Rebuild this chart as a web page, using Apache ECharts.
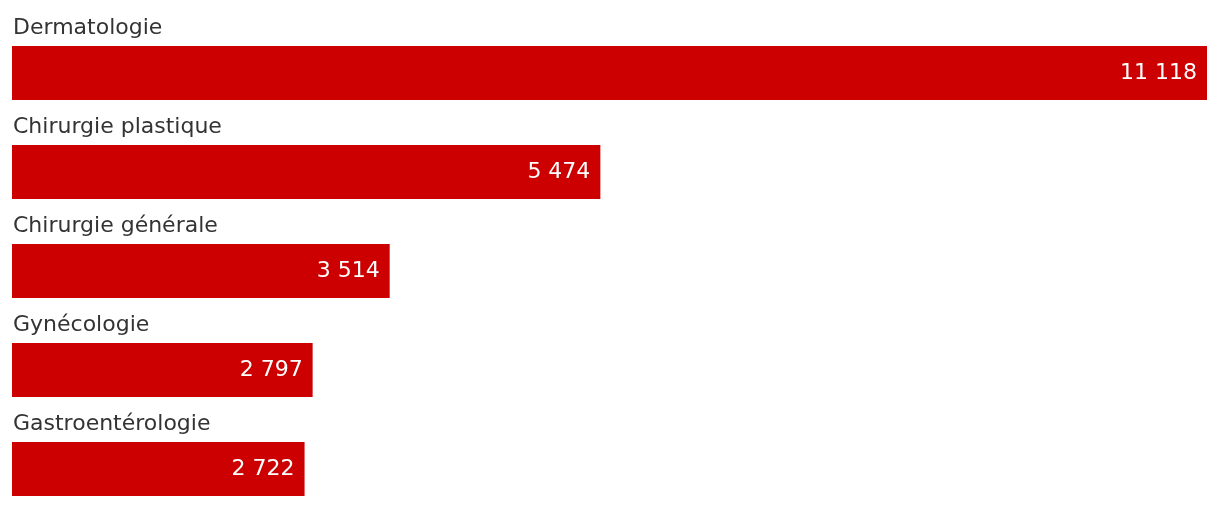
<!DOCTYPE html>
<html><head><meta charset="utf-8">
<script src="https://cdn.jsdelivr.net/npm/echarts@6/dist/echarts.min.js"></script>
<style>html,body{margin:0;padding:0;background:#fff}#c{width:1220px;height:506px}</style>
</head><body><div id="c"></div>
<script>
const categories = ["Dermatologie", "Chirurgie plastique", "Chirurgie générale", "Gynécologie", "Gastroentérologie"];
const values = [11118, 5474, 3514, 2797, 2722];
const fmt = v => String(v).replace(/\B(?=(\d{3})+(?!\d))/g, ' ');
const chart = echarts.init(document.getElementById('c'), null, {renderer: 'canvas'});
chart.setOption({
  animation: false,
  grid: {left: 12, right: 13, top: 11, height: 495, containLabel: false},
  xAxis: {type: 'value', min: 0, max: 'dataMax', show: false},
  yAxis: {type: 'category', data: categories, inverse: true, show: false},
  series: [
    {
      type: 'bar', data: values, barWidth: 25, barGap: 0, itemStyle: {color: 'rgba(0,0,0,0)'},
      silent: true,
      label: {show: true, position: [1, 18], align: 'left', verticalAlign: 'bottom', color: '#333',
        fontFamily: 'DejaVu Sans', fontSize: 22, formatter: p => p.name}
    },
    {
      type: 'bar', data: values, barWidth: 54, barGap: 0, itemStyle: {color: '#cc0000'},
      label: {show: true, position: 'insideRight', distance: 10, color: '#fff',
        fontFamily: 'DejaVu Sans', fontSize: 22, formatter: p => fmt(p.value)}
    }
  ]
});
</script></body></html>
